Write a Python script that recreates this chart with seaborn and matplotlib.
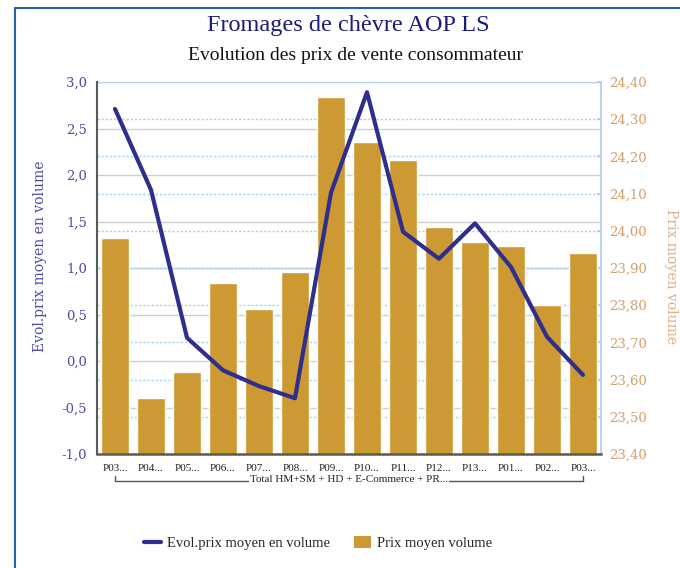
import matplotlib
matplotlib.use("Agg")
import matplotlib.pyplot as plt
import seaborn as sns
import pandas as pd
import numpy as np
from matplotlib.lines import Line2D
from matplotlib.patches import Patch
from matplotlib.ticker import FuncFormatter, FixedLocator
import matplotlib.transforms as mtransforms

# ---------------- data ----------------
periodes = ["P03...", "P04...", "P05...", "P06...", "P07...", "P08...", "P09...",
            "P10...", "P11...", "P12...", "P13...", "P01...", "P02...", "P03..."]
prix_moyen = [23.98, 23.55, 23.62, 23.86, 23.79, 23.89, 24.36,
              24.24, 24.19, 24.01, 23.97, 23.96, 23.80, 23.94]
evol_prix = [2.71, 1.84, 0.25, -0.10, -0.27, -0.40, 1.81,
             2.89, 1.39, 1.10, 1.48, 1.01, 0.26, -0.15]
groupe = "Total HM+SM + HD + E-Commerce + PR..."
titre = "Fromages de chèvre AOP LS"
sous_titre = "Evolution des prix de vente consommateur"
label_gauche = "Evol.prix moyen en volume"
label_droite = "Prix moyen volume"
ticks_gauche = [-1.0, -0.5, 0.0, 0.5, 1.0, 1.5, 2.0, 2.5, 3.0]
ticks_droite = [23.40, 23.50, 23.60, 23.70, 23.80, 23.90, 24.00, 24.10, 24.20, 24.30, 24.40]

# ---------------- style ----------------
sns.set_theme(style="white")
plt.rcParams["font.family"] = ["Liberation Serif", "DejaVu Serif"]

BAR = "#CC9933"
LINE = "#2E2E8F"
LEFT_C = "#4B4BA6"
RIGHT_C = "#D49E6A"
SERIF_WIDE = "DejaVu Serif"
SERIF = "Liberation Serif"

fig = plt.figure(figsize=(6.8, 5.68), dpi=100)
W, H = 680, 568
pos = [97 / W, 1 - 454 / H, 504 / W, 372 / H]

ax = fig.add_axes(pos)
ax.set_zorder(0)
ax_bar = ax.twinx()
ax_bar.set_zorder(1)
ax_bar.patch.set_visible(False)
ax_line = ax.twinx()
ax_line.set_zorder(2)
ax_line.patch.set_visible(False)

df = pd.DataFrame({"pos": np.arange(len(periodes)), "prix": prix_moyen, "evol": evol_prix})

sns.barplot(data=df, x="pos", y="prix", ax=ax_bar, color=BAR, width=0.8, saturation=1)
sns.lineplot(data=df, x="pos", y="evol", ax=ax_line, color=LINE, lw=3.0, sort=False)

n = len(periodes)
ax.set_xlim(-0.5, n - 0.5)
ax.set_ylim(ticks_gauche[0], ticks_gauche[-1])
ax_line.set_ylim(ticks_gauche[0], ticks_gauche[-1])
ax_bar.set_ylim(ticks_droite[0], ticks_droite[-1])

for a in (ax, ax_bar, ax_line):
    a.set_xlabel("")
    a.set_ylabel("")

# left axis
ax.yaxis.set_major_locator(FixedLocator(ticks_gauche))
ax.yaxis.set_major_formatter(FuncFormatter(lambda v, p: f"{v:.1f}".replace(".", ",")))
ax.tick_params(axis="y", length=0, pad=7, labelcolor=LEFT_C, labelsize=9.5)
for t in ax.get_yticklabels():
    t.set_fontfamily(SERIF_WIDE)
ax.yaxis.grid(True, color="#d0d0d0", lw=1.0, ls="-")
ax.xaxis.grid(False)

# right axis
ax_bar.yaxis.set_major_locator(FixedLocator(ticks_droite))
ax_bar.yaxis.set_major_formatter(FuncFormatter(lambda v, p: f"{v:.2f}".replace(".", ",")))
ax_bar.tick_params(axis="y", length=3, direction="in", color="#a9d0f5", pad=6,
                   labelcolor=RIGHT_C, labelsize=9.5)
for t in ax_bar.get_yticklabels():
    t.set_fontfamily(SERIF_WIDE)
ax_bar.set_axisbelow(True)
ax_bar.yaxis.grid(True, color="#a6cdf2", lw=1.0, ls=(0, (1.5, 1.5)))
ax_bar.xaxis.grid(False)

ax_line.yaxis.set_visible(False)

# x axis
ax.set_xticks(np.arange(n))
ax.set_xticklabels(periodes)
ax.tick_params(axis="x", length=0, pad=7, labelsize=8, labelcolor="#222222")
for t in ax.get_xticklabels():
    t.set_fontfamily(SERIF)

# spines: left & bottom drawn on the top-most axes so bars don't hide them
for a in (ax, ax_bar, ax_line):
    for s in a.spines.values():
        s.set_visible(False)
ax_line.spines["left"].set_visible(True)
ax_line.spines["left"].set_color("#5a5a5a")
ax_line.spines["left"].set_linewidth(1.5)
ax_line.spines["bottom"].set_visible(True)
ax_line.spines["bottom"].set_color("#5a5a5a")
ax_line.spines["bottom"].set_linewidth(1.8)
ax_bar.spines["right"].set_visible(True)
ax_bar.spines["right"].set_color("#a9d0f5")
ax_bar.spines["right"].set_linewidth(1.2)

# group bracket under categories
trans = mtransforms.blended_transform_factory(ax.transData, fig.transFigure)
y_l = 1 - 481 / H
y_t = 1 - 476 / H
ax.plot([0, 0, n - 1, n - 1], [y_t, y_l, y_l, y_t], transform=trans, clip_on=False,
        color="#555555", lw=1.0, zorder=0.5)
ax.text((n - 1) / 2, 1 - 479 / H, groupe, transform=trans, ha="center", va="center",
        fontsize=8, family=SERIF, color="#222222", clip_on=False, zorder=1,
        bbox=dict(facecolor="white", edgecolor="none", pad=1.0))

# titles
fig.text(348 / W, 1 - 25 / H, titre, ha="center", va="center", fontsize=17.5,
         family=SERIF, color="#1c1c7a")
fig.text(355 / W, 1 - 56 / H, sous_titre, ha="center", va="center", fontsize=14,
         family=SERIF, color="#111111")

# axis labels
fig.text(40 / W, 1 - 256 / H, label_gauche, rotation=90, ha="center", va="center",
         fontsize=10, family=SERIF_WIDE, color=LEFT_C)
fig.text(671 / W, 1 - 277 / H, label_droite, rotation=270, ha="center", va="center",
         fontsize=10, family=SERIF_WIDE, color="#ddb088")

# legend
handles = [Line2D([0], [0], color=LINE, lw=3.0), Patch(facecolor=BAR, edgecolor="none")]
labels = [label_gauche, label_droite]
fig.legend(handles, labels, loc="center", bbox_to_anchor=(318 / W, 1 - 543 / H), ncol=2,
           frameon=False, prop={"family": SERIF, "size": 10.5}, handlelength=1.2,
           handleheight=0.9, columnspacing=1.6, handletextpad=0.4)

# frame border (left & top)
border_c = "#2763ad"
fig.add_artist(Line2D([15 / W, 15 / W], [0, 1 - 8 / H], transform=fig.transFigure,
                      color=border_c, lw=1.5))
fig.add_artist(Line2D([15 / W, 1], [1 - 8 / H, 1 - 8 / H], transform=fig.transFigure,
                      color=border_c, lw=1.5))

fig.savefig("out.png", dpi=100)
